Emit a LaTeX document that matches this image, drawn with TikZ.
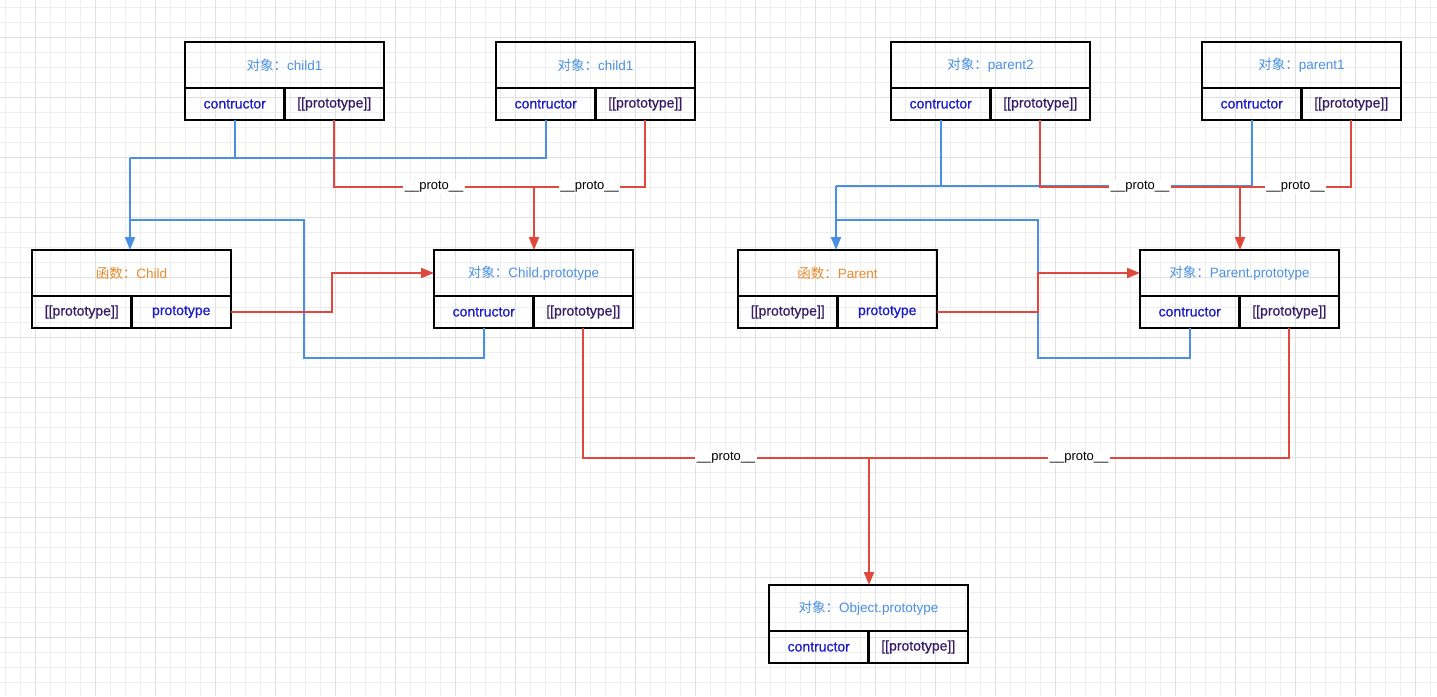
\documentclass[tikz,border=0pt]{standalone}
\usepackage{fontspec}
\setmainfont{Liberation Sans}
\newfontfamily\cjk{Noto Sans CJK SC}
\newfontfamily\cellfont[FakeBold=0.6]{Liberation Sans}
\usetikzlibrary{arrows.meta}
\definecolor{lineblue}{RGB}{74,144,226}
\definecolor{linered}{RGB}{224,72,62}
\definecolor{titleblue}{RGB}{74,144,226}
\definecolor{titleorange}{RGB}{232,137,43}
\definecolor{celltxt}{RGB}{26,26,200}
\definecolor{protxt}{RGB}{52,28,100}
\definecolor{gminorc}{RGB}{238,238,238}
\definecolor{gmajorc}{RGB}{224,224,224}
\tikzset{
  tbox/.style={draw=black, line width=2.2pt, outer sep=0pt, minimum width=199pt, minimum height=46pt, inner sep=0pt, font=\fontsize{13.5}{15}\selectfont},
  cbox/.style={draw=black, line width=2.2pt, outer sep=0pt, minimum width=99.5pt, minimum height=32pt, inner sep=0pt, font=\cellfont\fontsize{14}{16}\selectfont},
  bl/.style={draw=lineblue, line width=2pt},
  rd/.style={draw=linered, line width=2pt},
  tip/.style={-{Triangle[length=13pt,width=10pt]}},
  lbl/.style={fill=white, inner sep=1.5pt, text=black, font=\fontsize{13}{15}\selectfont},
  gminor/.style={draw=gminorc, line width=0.8pt},
  gmajor/.style={draw=gmajorc, line width=1pt}
}
\newcommand\objbox[6]{%
  \node[tbox, anchor=north west] (#1) at (#2,#3) {#4};
  \node[cbox, anchor=north west] (#1l) at (#1.south west) {#5};
  \node[cbox, anchor=north east] (#1r) at (#1.south east) {#6};
}
\newcommand\ctr{\textcolor{celltxt}{contructor}}
\newcommand\pro{\textcolor{protxt}{[[prototype]]}}
\newcommand\prp{\textcolor{celltxt}{prototype}}
\newcommand\obj[1]{\textcolor{titleblue}{{\cjk 对象：}#1}}
\newcommand\fn[1]{\textcolor{titleorange}{{\cjk 函数：}#1}}
\begin{document}
\begin{tikzpicture}[x=1pt,y=-1pt]
\useasboundingbox (0,0) rectangle (1437,696);
\fill[white] (0,0) rectangle (1437,696);
% grid
\foreach \i in {0,...,95} \draw[gminor] ({5+15*\i},0) -- ({5+15*\i},696);
\foreach \i in {0,...,46} \draw[gminor] (0,{7+15*\i}) -- (1437,{7+15*\i});
\foreach \i in {0,...,23} \draw[gmajor] ({35+60*\i},0) -- ({35+60*\i},696);
\foreach \i in {0,...,11} \draw[gmajor] (0,{37+60*\i}) -- (1437,{37+60*\i});

% junction coordinates
\coordinate (jL) at (130,158);
\coordinate (jL2) at (304,358);
\coordinate (kL) at (332,313);
\coordinate (jR) at (836,186);
\coordinate (jR2) at (1038,358);
\coordinate (kR) at (1038,313);
\coordinate (rL) at (534,187);
\coordinate (rR) at (1240,187);
\coordinate (rB) at (869,458);

% boxes
\objbox{A}{185}{42}{\obj{child1}}{\ctr}{\pro}
\objbox{B}{496}{42}{\obj{child1}}{\ctr}{\pro}
\objbox{P2}{891}{42}{\obj{parent2}}{\ctr}{\pro}
\objbox{P1}{1202}{42}{\obj{parent1}}{\ctr}{\pro}
\objbox{C}{32}{250}{\fn{Child}}{\pro}{\prp}
\objbox{CP}{434}{250}{\obj{Child.prototype}}{\ctr}{\pro}
\objbox{P}{738}{250}{\fn{Parent}}{\pro}{\prp}
\objbox{PP}{1140}{250}{\obj{Parent.prototype}}{\ctr}{\pro}
\objbox{OP}{769}{585}{\obj{Object.prototype}}{\ctr}{\pro}

% left cluster: blue
\draw[bl] (Al.south) |- (jL);
\draw[bl] (Bl.south) |- (jL);
\draw[bl,tip] (jL) -- (jL |- C.north);
\draw[bl] (CPl.south) |- (jL2) -- (304,220) -- (jL |- 0,220);
% left cluster: red
\draw[rd] (Ar.south) |- (rL) node[lbl, pos=0.75] {\_\_proto\_\_};
\draw[rd] (Br.south) |- (rL) node[lbl, pos=0.75] {\_\_proto\_\_};
\draw[rd,tip] (rL) -- (rL |- CP.north);
\draw[rd,tip] (Cr.east) -| (kL |- CP.west) -- (CP.west);

% right cluster: blue
\draw[bl] (P2l.south) |- (jR);
\draw[bl] (P1l.south) |- (jR);
\draw[bl,tip] (jR) -- (jR |- P.north);
\draw[bl] (PPl.south) |- (jR2) -- (1038,220) -- (jR |- 0,220);
% right cluster: red
\draw[rd] (P2r.south) |- (rR) node[lbl, pos=0.75] {\_\_proto\_\_};
\draw[rd] (P1r.south) |- (rR) node[lbl, pos=0.75] {\_\_proto\_\_};
\draw[rd,tip] (rR) -- (rR |- PP.north);
\draw[rd,tip] (Pr.east) -| (kR |- PP.west) -- (PP.west);

% bottom red
\draw[rd] (CPr.south) |- (rB) node[lbl, pos=0.75] {\_\_proto\_\_};
\draw[rd] (PPr.south) |- (rB) node[lbl, pos=0.75] {\_\_proto\_\_};
\draw[rd,tip] (rB) -- (rB |- OP.north);
\end{tikzpicture}
\end{document}
